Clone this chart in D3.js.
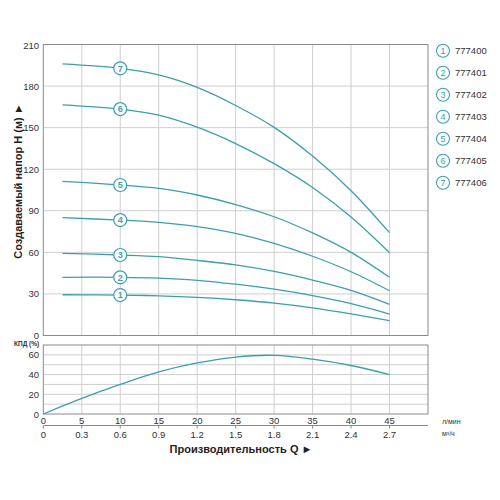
<!DOCTYPE html>
<html><head><meta charset="utf-8">
<script src="https://cdn.jsdelivr.net/npm/d3@7"></script>
<style>body{margin:0;background:#fff;}svg{font-family:Arial,"Liberation Sans",sans-serif;}</style>
</head><body><svg id="c" width="500" height="500"></svg>
<script>
const flowLpm = [2.5, 10, 15, 20, 25, 30, 35, 40, 45];
const models = ["777400","777401","777402","777403","777404","777405","777406"];
const head1 = [29.4, 29.2, 28.6, 27.5, 25.8, 23.4, 20.0, 15.6, 10.7];
const head2 = [42.0, 42.0, 41.4, 39.8, 37.0, 33.4, 28.8, 23.0, 15.5];
const head3 = [59.3, 58.1, 56.9, 54.2, 50.9, 46.2, 40.0, 32.6, 22.5];
const head4 = [85.0, 83.3, 81.7, 78.6, 73.7, 66.5, 57.2, 46.0, 32.3];
const head5 = [111.2, 108.6, 106.2, 101.4, 94.5, 85.7, 74.0, 60.0, 42.0];
const head6 = [166.5, 163.4, 159.0, 150.3, 138.5, 124.0, 106.8, 85.5, 59.7];
const head7 = [196.0, 192.8, 188.0, 179.0, 166.0, 150.2, 129.5, 104.5, 74.2];
const effFlow = [0, 5, 10, 15, 20, 25, 30, 35, 40, 45];
const effVals = [0, 15.8, 30.0, 42.7, 51.8, 57.8, 59.5, 55.6, 49.2, 40.0];
const xTicksLpm = [0,5,10,15,20,25,30,35,40,45];
const xTicksM3h = ["0","0.3","0.6","0.9","1.2","1.5","1.8","2.1","2.4","2.7"];
const yTicksHead = [0,30,60,90,120,150,180,210];
const yTicksEff = [0,20,40,60];

const heads = [head1,head2,head3,head4,head5,head6,head7];
const teal = "#3c9fae", grid = "#cfcfcf", border = "#8a8a8a", txt = "#333";
const svg = d3.select("#c");
const L = 43.3, R = 428;
const x = d3.scaleLinear().domain([0,50]).range([L,R]);
const yH = d3.scaleLinear().domain([0,210]).range([335.5,44.5]);
const yE = d3.scaleLinear().domain([0,70]).range([414,345]);

// head panel grid
const g1 = svg.append("g");
g1.selectAll("line.v").data(d3.range(5,50,5)).join("line")
  .attr("x1",d=>x(d)).attr("x2",d=>x(d)).attr("y1",yH(0)).attr("y2",yH(210))
  .attr("stroke",grid).attr("stroke-width",1);
g1.selectAll("line.h").data(yTicksHead.slice(1,-1)).join("line")
  .attr("x1",L).attr("x2",R).attr("y1",d=>yH(d)).attr("y2",d=>yH(d))
  .attr("stroke",grid).attr("stroke-width",1);
g1.append("rect").attr("x",L).attr("y",yH(210)).attr("width",R-L).attr("height",yH(0)-yH(210))
  .attr("fill","none").attr("stroke",border).attr("stroke-width",1);
g1.selectAll("text").data(yTicksHead).join("text")
  .attr("x",39).attr("y",d=>yH(d)+ (d===210?4:3.5)).attr("text-anchor","end")
  .attr("font-size",9.5).attr("fill",txt).text(d=>d);

// efficiency panel grid
const g2 = svg.append("g");
g2.selectAll("line.v").data(d3.range(5,50,5)).join("line")
  .attr("x1",d=>x(d)).attr("x2",d=>x(d)).attr("y1",yE(0)).attr("y2",yE(70))
  .attr("stroke",grid);
g2.selectAll("line.h").data(d3.range(10,70,10)).join("line")
  .attr("x1",L).attr("x2",R).attr("y1",d=>yE(d)).attr("y2",d=>yE(d))
  .attr("stroke",grid);
g2.append("rect").attr("x",L).attr("y",yE(70)).attr("width",R-L).attr("height",yE(0)-yE(70))
  .attr("fill","none").attr("stroke",border);
g2.selectAll("text").data(yTicksEff).join("text")
  .attr("x",39).attr("y",d=>yE(d)+3.5).attr("text-anchor","end")
  .attr("font-size",9.5).attr("fill",txt).text(d=>d);
svg.append("text").attr("x",14).attr("y",346).attr("font-size",6.5).attr("font-weight","bold")
  .attr("fill",txt).text("КПД (%)");

// x axis labels
svg.append("g").selectAll("text").data(xTicksLpm).join("text")
  .attr("x",d=>x(d)).attr("y",424).attr("text-anchor","middle")
  .attr("font-size",9.5).attr("fill",txt).text(d=>d);
svg.append("line").attr("x1",L).attr("x2",R).attr("y1",425.5).attr("y2",425.5).attr("stroke",border);
svg.append("g").selectAll("line").data(xTicksLpm).join("line")
  .attr("x1",d=>x(d)).attr("x2",d=>x(d)).attr("y1",425.5).attr("y2",428.5).attr("stroke",border);
svg.append("g").selectAll("text").data(xTicksM3h).join("text")
  .attr("x",(d,i)=>x(xTicksLpm[i])).attr("y",438).attr("text-anchor","middle")
  .attr("font-size",9.5).attr("fill",txt).text(d=>d);
svg.append("text").attr("x",442).attr("y",424).attr("font-size",7).attr("fill",txt).text("л/мин");
svg.append("text").attr("x",442).attr("y",436).attr("font-size",7).attr("fill",txt).text("м³/ч");
svg.append("text").attr("x",241).attr("y",453).attr("text-anchor","middle")
  .attr("font-size",11).attr("font-weight","bold").attr("fill","#222").text("Производительность Q ►");
svg.append("text").attr("transform","translate(22,181) rotate(-90)").attr("text-anchor","middle")
  .attr("font-size",11).attr("font-weight","bold").attr("fill","#222").text("Создаваемый напор H (м) ►");

// curves
const lineH = d3.line().x((d,i)=>x(flowLpm[i])).y(d=>yH(d)).curve(d3.curveCatmullRom.alpha(0.5));
svg.append("g").selectAll("path").data(heads).join("path")
  .attr("d",lineH).attr("fill","none").attr("stroke",teal).attr("stroke-width",1.3);
const lineE = d3.line().x((d,i)=>x(effFlow[i])).y(d=>yE(d)).curve(d3.curveCatmullRom.alpha(0.5));
svg.append("path").attr("d",lineE(effVals)).attr("fill","none").attr("stroke",teal).attr("stroke-width",1.3);

// markers at Q=10
const mk = svg.append("g").selectAll("g").data(heads).join("g")
  .attr("transform",d=>`translate(${x(flowLpm[1])},${yH(d[1])})`);
mk.append("circle").attr("r",6.5).attr("fill","#fff").attr("stroke",teal).attr("stroke-width",1.2);
mk.append("text").attr("y",3.3).attr("text-anchor","middle").attr("font-size",9).attr("font-weight","bold")
  .attr("fill",teal).text((d,i)=>i+1);

// legend
const lg = svg.append("g").selectAll("g").data(models).join("g")
  .attr("transform",(d,i)=>`translate(443,${50.7+i*22})`);
lg.append("circle").attr("r",6.5).attr("fill","#fff").attr("stroke",teal).attr("stroke-width",1.1);
lg.append("text").attr("y",3.3).attr("text-anchor","middle").attr("font-size",9).attr("fill",teal).text((d,i)=>i+1);
lg.append("text").attr("x",12).attr("y",3.5).attr("font-size",9.5).attr("fill",txt).text(d=>d);
</script></body></html>
